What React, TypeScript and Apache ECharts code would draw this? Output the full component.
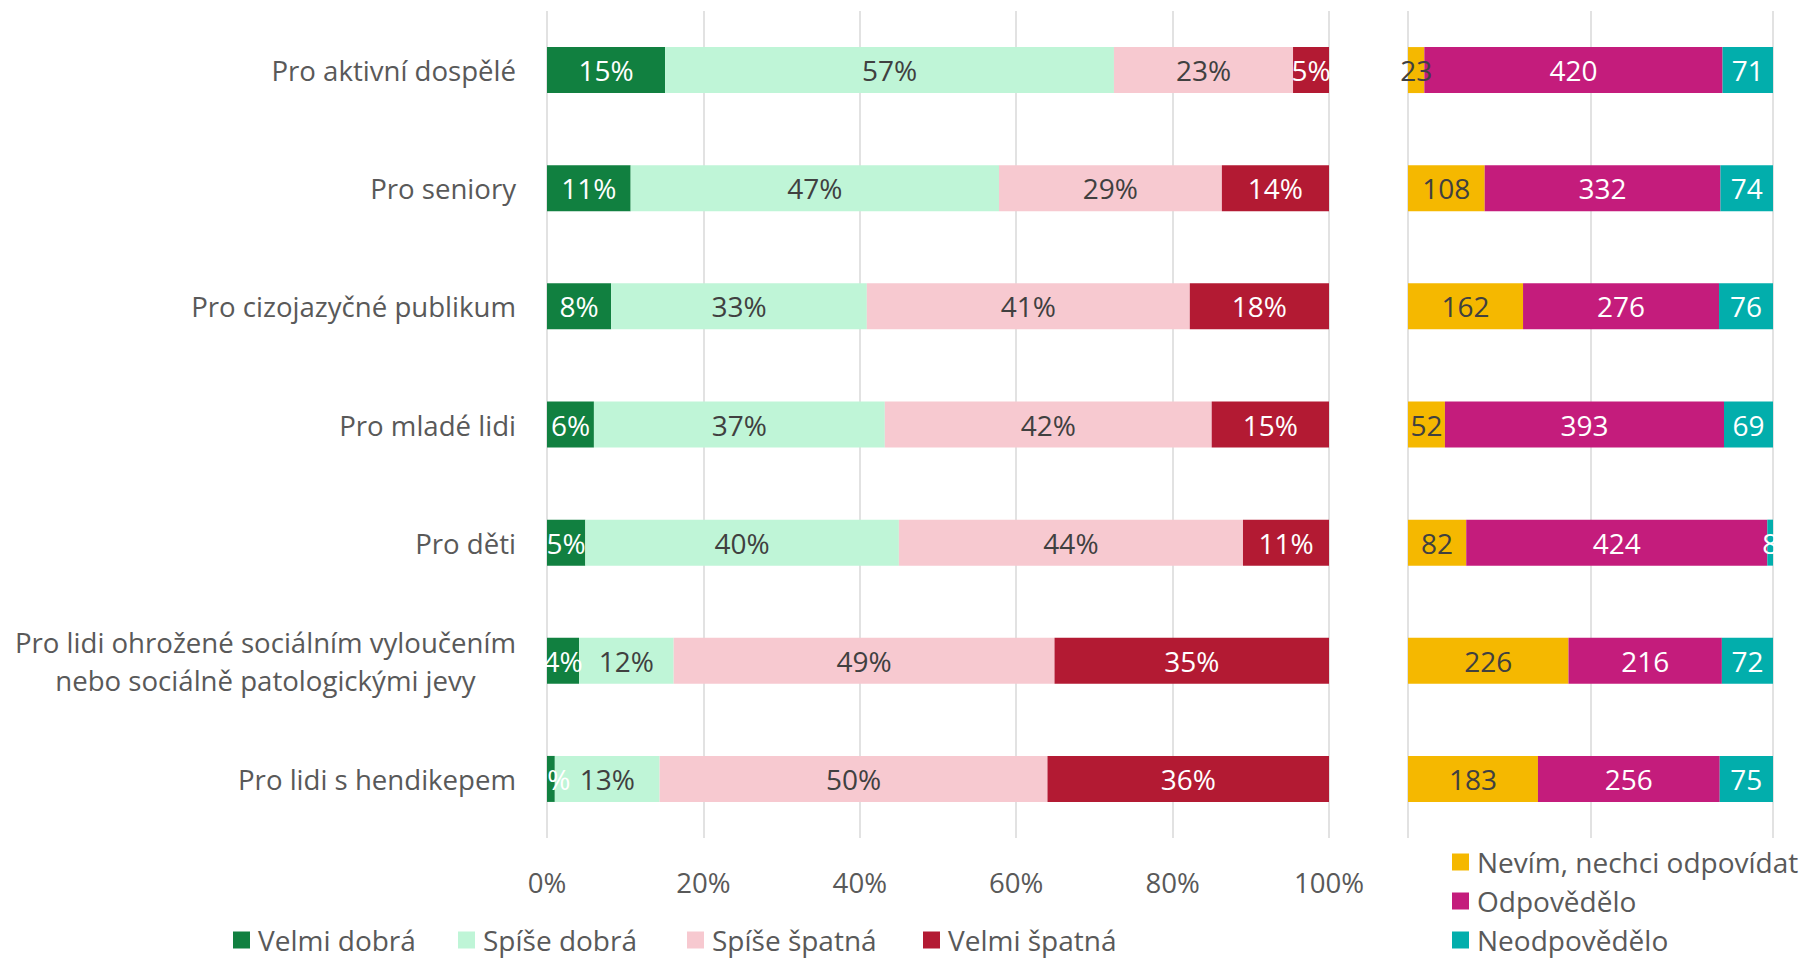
import React, { useEffect, useRef } from 'react';
import * as echarts from 'echarts';

const categories = [
  'Pro aktivní dospělé',
  'Pro seniory',
  'Pro cizojazyčné publikum',
  'Pro mladé lidi',
  'Pro děti',
  'Pro lidi ohrožené sociálním vyloučením\nnebo sociálně patologickými jevy',
  'Pro lidi s hendikepem',
];
const ratingNames = ['Velmi dobrá', 'Spíše dobrá', 'Spíše špatná', 'Velmi špatná'];
const velmiDobra = [15.1, 10.7, 8.2, 6.0, 4.9, 4.1, 1.0];
const spiseDobra = [57.4, 47.1, 32.7, 37.2, 40.1, 12.1, 13.4];
const spiseSpatna = [22.9, 28.5, 41.3, 41.8, 44.0, 48.7, 49.6];
const velmiSpatna = [4.6, 13.7, 17.8, 15.0, 11.0, 35.1, 36.0];

const responseNames = ['Nevím, nechci odpovídat', 'Odpovědělo', 'Neodpovědělo'];
const nevim = [23, 108, 162, 52, 82, 226, 183];
const odpovedelo = [420, 332, 276, 393, 424, 216, 256];
const neodpovedelo = [71, 74, 76, 69, 8, 72, 75];
const responseTotal = 514;

const FONT = '"Open Sans", "Noto Sans", sans-serif';
const FS = 28;
const AXIS_FS = 27.6;
const AXIS_COLOR = '#595959';
const DARK_TEXT = '#404040';
const ratingLegendLeft = [233, 458, 687, 923];
const ratingLegendTop = 926;
const responseLegendLeft = 1452;
const responseLegendTop = [848, 887, 926];

export default function App() {
  const ref = useRef<HTMLDivElement>(null);
  useEffect(() => {
    if (!ref.current) return;
    const chart = echarts.init(ref.current, undefined, { renderer: 'svg' });
    const barW = 46;
    const pctSeries = (name: string, data: number[], color: string, textColor: string) => ({
      name,
      type: 'bar',
      stack: 'pct',
      xAxisIndex: 0,
      yAxisIndex: 0,
      barWidth: barW,
      data,
      itemStyle: { color },
      label: {
        show: true,
        position: 'inside',
        color: textColor,
        fontSize: FS,
        fontFamily: FONT,
        formatter: (p: any) => Math.round(p.value) + '%',
      },
    });
    const cntSeries = (name: string, data: number[], color: string, textColor: string) => ({
      name,
      type: 'bar',
      stack: 'cnt',
      xAxisIndex: 1,
      yAxisIndex: 1,
      barWidth: barW,
      data,
      itemStyle: { color },
      label: {
        show: true,
        position: 'inside',
        color: textColor,
        fontSize: FS,
        fontFamily: FONT,
      },
    });
    const legendText = { fontSize: FS, color: AXIS_COLOR, fontFamily: FONT, padding: [0, 0, 0, 3] };
    const oneLegend = (name: string, left: number, top: number) => ({
      data: [name],
      left,
      top,
      padding: 0,
      orient: 'horizontal',
      icon: 'rect',
      itemWidth: 17,
      itemHeight: 17,
      textStyle: legendText,
    });
    chart.setOption({
      animation: false,
      textStyle: { fontFamily: FONT },
      grid: [
        { left: 547, width: 782, top: 11, height: 827 },
        { left: 1408, width: 365, top: 11, height: 827 },
      ],
      xAxis: [
        {
          type: 'value',
          gridIndex: 0,
          min: 0,
          max: 100,
          interval: 20,
          axisLine: { show: false },
          axisTick: { show: false },
          splitLine: { show: true, lineStyle: { color: '#D9D9D9', width: 1.5 } },
          axisLabel: {
            formatter: '{value}%',
            color: AXIS_COLOR,
            fontSize: AXIS_FS,
            fontFamily: FONT,
            margin: 30,
          },
        },
        {
          type: 'value',
          gridIndex: 1,
          min: 0,
          max: responseTotal,
          interval: responseTotal / 2,
          axisLine: { show: false },
          axisTick: { show: false },
          splitLine: { show: true, lineStyle: { color: '#D9D9D9', width: 1.5 } },
          axisLabel: { show: false },
        },
      ],
      yAxis: [
        {
          type: 'category',
          gridIndex: 0,
          data: categories,
          inverse: true,
          axisLine: { show: false },
          axisTick: { show: false },
          axisLabel: {
            margin: 31,
            formatter: (v: string) =>
              v
                .split('\n')
                .map((s) => '{c|' + s + '}')
                .join('\n'),
            rich: {
              c: {
                align: 'center',
                fontSize: AXIS_FS,
                lineHeight: 38,
                color: AXIS_COLOR,
                fontFamily: FONT,
              },
            },
          },
        },
        {
          type: 'category',
          gridIndex: 1,
          data: categories,
          inverse: true,
          axisLine: { show: false },
          axisTick: { show: false },
          axisLabel: { show: false },
        },
      ],
      legend: [
        ...ratingNames.map((n, i) => oneLegend(n, ratingLegendLeft[i], ratingLegendTop)),
        ...responseNames.map((n, i) => oneLegend(n, responseLegendLeft, responseLegendTop[i])),
      ],
      series: [
        pctSeries(ratingNames[0], velmiDobra, '#118040', '#FFFFFF'),
        pctSeries(ratingNames[1], spiseDobra, '#BFF5D7', DARK_TEXT),
        pctSeries(ratingNames[2], spiseSpatna, '#F7C9D0', DARK_TEXT),
        pctSeries(ratingNames[3], velmiSpatna, '#B31A33', '#FFFFFF'),
        cntSeries(responseNames[0], nevim, '#F5B800', DARK_TEXT),
        cntSeries(responseNames[1], odpovedelo, '#C41C7C', '#FFFFFF'),
        cntSeries(responseNames[2], neodpovedelo, '#02AEAC', '#FFFFFF'),
      ],
    });
    return () => chart.dispose();
  }, []);
  return (
    <div
      ref={ref}
      style={{ position: 'fixed', left: 0, top: 0, width: 1803, height: 958, background: '#FFFFFF' }}
    />
  );
}
